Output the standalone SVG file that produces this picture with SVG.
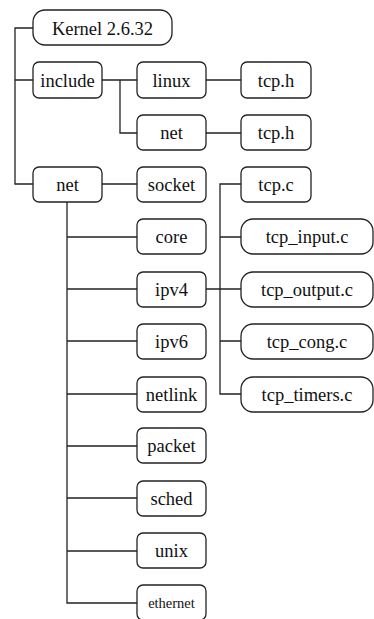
<svg xmlns="http://www.w3.org/2000/svg" width="374" height="619" viewBox="0 0 374 619">
<style>
.b{fill:#fff;stroke:#222;stroke-width:1.3}
text{font-family:'Liberation Serif','Times New Roman','DejaVu Serif',serif;font-size:18.5px;fill:#111;text-anchor:middle}
.s{font-size:14.5px}
.c{fill:none;stroke:#222;stroke-width:1.3}
</style>
<rect width="374" height="619" fill="#fff"/>
<g id="connectors" class="c">
<path d="M33 28H15V184H33M15 80H33"/>
<path d="M102 80H137M120 80V133H137M206 80H241M206 133H241"/>
<path d="M102 184H137"/>
<path d="M67 202V603H137M67 237H137M67 289H137M67 341H137M67 394H137M67 446H137M67 498H137M67 551H137"/>
<path d="M241 184H220V394H241M220 237H241M206 289H241M220 341H241"/>
</g>
<g id="kernel"><rect class="b" x="33" y="10" width="139" height="35" rx="12"/><text x="102.5" y="34.5">Kernel 2.6.32</text></g>
<g id="include"><rect class="b" x="33" y="62" width="69" height="36" rx="6"/><text x="67.5" y="86.5">include</text></g>
<g id="linux"><rect class="b" x="137" y="62" width="69" height="36" rx="6"/><text x="171.5" y="86.5">linux</text></g>
<g id="linux-tcp-h"><rect class="b" x="241" y="62" width="70" height="36" rx="6"/><text x="276" y="86.5">tcp.h</text></g>
<g id="include-net"><rect class="b" x="137" y="115" width="69" height="35" rx="6"/><text x="171.5" y="139">net</text></g>
<g id="net-tcp-h"><rect class="b" x="241" y="115" width="70" height="35" rx="6"/><text x="276" y="139">tcp.h</text></g>
<g id="net"><rect class="b" x="33" y="167" width="69" height="35" rx="6"/><text x="67.5" y="191">net</text></g>
<g id="socket"><rect class="b" x="137" y="167" width="69" height="35" rx="6"/><text x="171.5" y="191">socket</text></g>
<g id="tcp-c"><rect class="b" x="241" y="167" width="70" height="35" rx="6"/><text x="276" y="191">tcp.c</text></g>
<g id="core"><rect class="b" x="137" y="219" width="69" height="35" rx="6"/><text x="171.5" y="243">core</text></g>
<g id="tcp-input"><rect class="b" x="241" y="219" width="132" height="35" rx="12"/><text x="307" y="243">tcp_input.c</text></g>
<g id="ipv4"><rect class="b" x="137" y="272" width="69" height="35" rx="6"/><text x="171.5" y="296">ipv4</text></g>
<g id="tcp-output"><rect class="b" x="241" y="272" width="132" height="35" rx="12"/><text x="307" y="296">tcp_output.c</text></g>
<g id="ipv6"><rect class="b" x="137" y="324" width="69" height="35" rx="6"/><text x="171.5" y="348">ipv6</text></g>
<g id="tcp-cong"><rect class="b" x="241" y="324" width="132" height="35" rx="12"/><text x="307" y="348">tcp_cong.c</text></g>
<g id="netlink"><rect class="b" x="137" y="377" width="69" height="35" rx="6"/><text x="171.5" y="401">netlink</text></g>
<g id="tcp-timers"><rect class="b" x="241" y="377" width="132" height="35" rx="12"/><text x="307" y="401">tcp_timers.c</text></g>
<g id="packet"><rect class="b" x="137" y="428" width="69" height="35" rx="6"/><text x="171.5" y="452">packet</text></g>
<g id="sched"><rect class="b" x="137" y="481" width="69" height="35" rx="6"/><text x="171.5" y="505">sched</text></g>
<g id="unix"><rect class="b" x="137" y="533" width="69" height="35" rx="6"/><text x="171.5" y="557">unix</text></g>
<g id="ethernet"><rect class="b" x="137" y="585" width="69" height="35" rx="6"/><text class="s" x="171.5" y="608">ethernet</text></g>
</svg>
